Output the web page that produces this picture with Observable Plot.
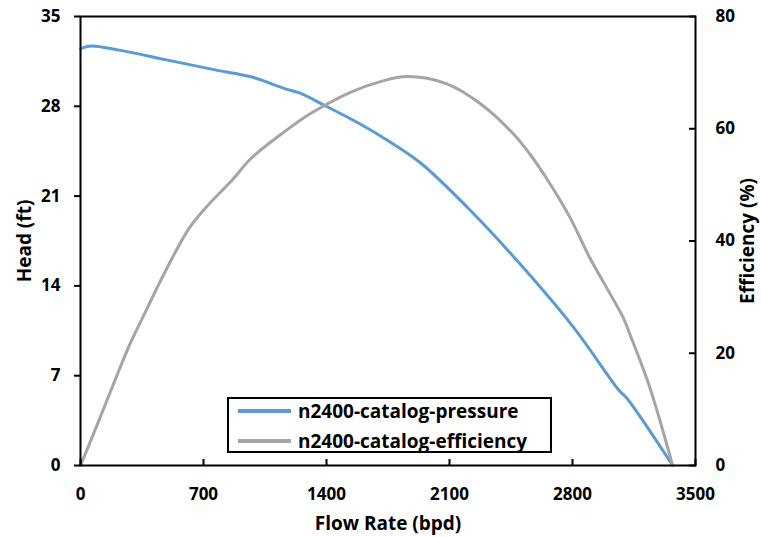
<!DOCTYPE html>
<html><head><meta charset="utf-8">
<script src="https://cdn.jsdelivr.net/npm/d3@7"></script>
<script src="https://cdn.jsdelivr.net/npm/@observablehq/plot@0.6"></script>
<style>
body{margin:0;background:#fff;}
#wrap{position:relative;width:761px;height:537px;font-family:"Open Sans",sans-serif;}
#legend{position:absolute;left:227px;top:397px;width:321px;height:52px;border:2px solid #000;background:#fff;box-sizing:content-box;}
#legend .row{position:absolute;left:0;height:26px;display:flex;align-items:center;white-space:nowrap;font-size:19px;font-weight:bold;color:#000;}
#legend .sw{width:53px;height:4px;margin-left:9px;margin-right:7px;}
</style></head><body><div id="wrap"></div>
<script>
const flowP = [0, 60, 212, 496, 780, 970, 1158, 1253, 1385, 1594, 1764, 1934, 2218, 2502, 2804, 3068, 3106, 3370];
const head  = [32.5, 32.7, 32.4, 31.6, 30.8, 30.3, 29.4, 29.0, 28.1, 26.6, 25.2, 23.6, 19.9, 15.7, 10.8, 5.8, 5.3, 0];
const flowE = [0, 89, 203, 278, 373, 486, 619, 732, 865, 970, 1158, 1309, 1536, 1707, 1858, 2085, 2274, 2463, 2557, 2670, 2784, 2897, 3010, 3088, 3125, 3239, 3370];
const eff   = [0, 6.8, 15.7, 21.4, 27.6, 34.8, 42.3, 46.6, 50.9, 54.7, 59.4, 62.7, 66.5, 68.4, 69.3, 68.0, 64.5, 59.1, 55.5, 50.3, 44.3, 37.1, 30.8, 26.4, 23.5, 14.0, 0];
const xTicks = [0, 700, 1400, 2100, 2800, 3500];
const headTicks = [0, 7, 14, 21, 28, 35];
const effTicks = [0, 20, 40, 60, 80];
const seriesNames = ["n2400-catalog-pressure", "n2400-catalog-efficiency"];
const seriesColors = ["#5b9bd5", "#a5a5a5"];
const headMax = 35, effMax = 80, xMax = 3500;
const k = headMax / effMax;

const pData = flowP.map((f, i) => ({flow: f, v: head[i]}));
const eData = flowE.map((f, i) => ({flow: f, v: eff[i] * k}));

const chart = Plot.plot({
  width: 761, height: 537,
  marginLeft: 80, marginRight: 66, marginTop: 16, marginBottom: 72,
  style: {fontFamily: '"Open Sans", sans-serif', fontSize: "17px", fontWeight: "bold", color: "#000", background: "#fff", overflow: "visible"},
  x: {domain: [0, xMax]},
  y: {domain: [0, headMax]},
  marks: [
    Plot.line(pData, {x: "flow", y: "v", stroke: seriesColors[0], strokeWidth: 3, curve: "catmull-rom"}),
    Plot.line(eData, {x: "flow", y: "v", stroke: seriesColors[1], strokeWidth: 3, curve: "catmull-rom"}),
    Plot.axisX({ticks: xTicks, tickSize: -6, tickFormat: () => "", label: null, strokeWidth: 2}),
    Plot.axisX({ticks: xTicks, tickSize: 0, tickPadding: 22, tickFormat: d => String(d), label: "Flow Rate (bpd)", labelArrow: "none", labelAnchor: "center", labelOffset: 64}),
    Plot.axisY({ticks: headTicks, tickSize: 6, tickPadding: 14, strokeWidth: 2, tickFormat: d => String(d), label: "Head (ft)", labelArrow: "none", labelAnchor: "center", labelOffset: 63}),
    Plot.axisY({anchor: "right", ticks: effTicks.map(v => v * k), tickSize: -7, tickFormat: () => "", label: null, strokeWidth: 2}),
    Plot.axisY({anchor: "right", ticks: effTicks.map(v => v * k), tickSize: 0, tickPadding: 20, tickFormat: d => String(Math.round(d / k)), label: "Efficiency (%)", labelArrow: "none", labelAnchor: "center", labelOffset: 58}),
    Plot.frame({stroke: "#000", strokeWidth: 2})
  ]
});

const wrap = document.getElementById("wrap");
wrap.appendChild(chart);
d3.select(chart).selectAll("[aria-label$='axis label'] text").style("font-size", "19px");

const legend = document.createElement("div");
legend.id = "legend";
seriesNames.forEach((name, i) => {
  const row = document.createElement("div");
  row.className = "row";
  row.style.top = (-1 + i * 30) + "px";
  const sw = document.createElement("div");
  sw.className = "sw";
  sw.style.background = seriesColors[i];
  const t = document.createElement("span");
  t.textContent = name;
  row.appendChild(sw); row.appendChild(t);
  legend.appendChild(row);
});
wrap.appendChild(legend);
</script>
</body></html>
